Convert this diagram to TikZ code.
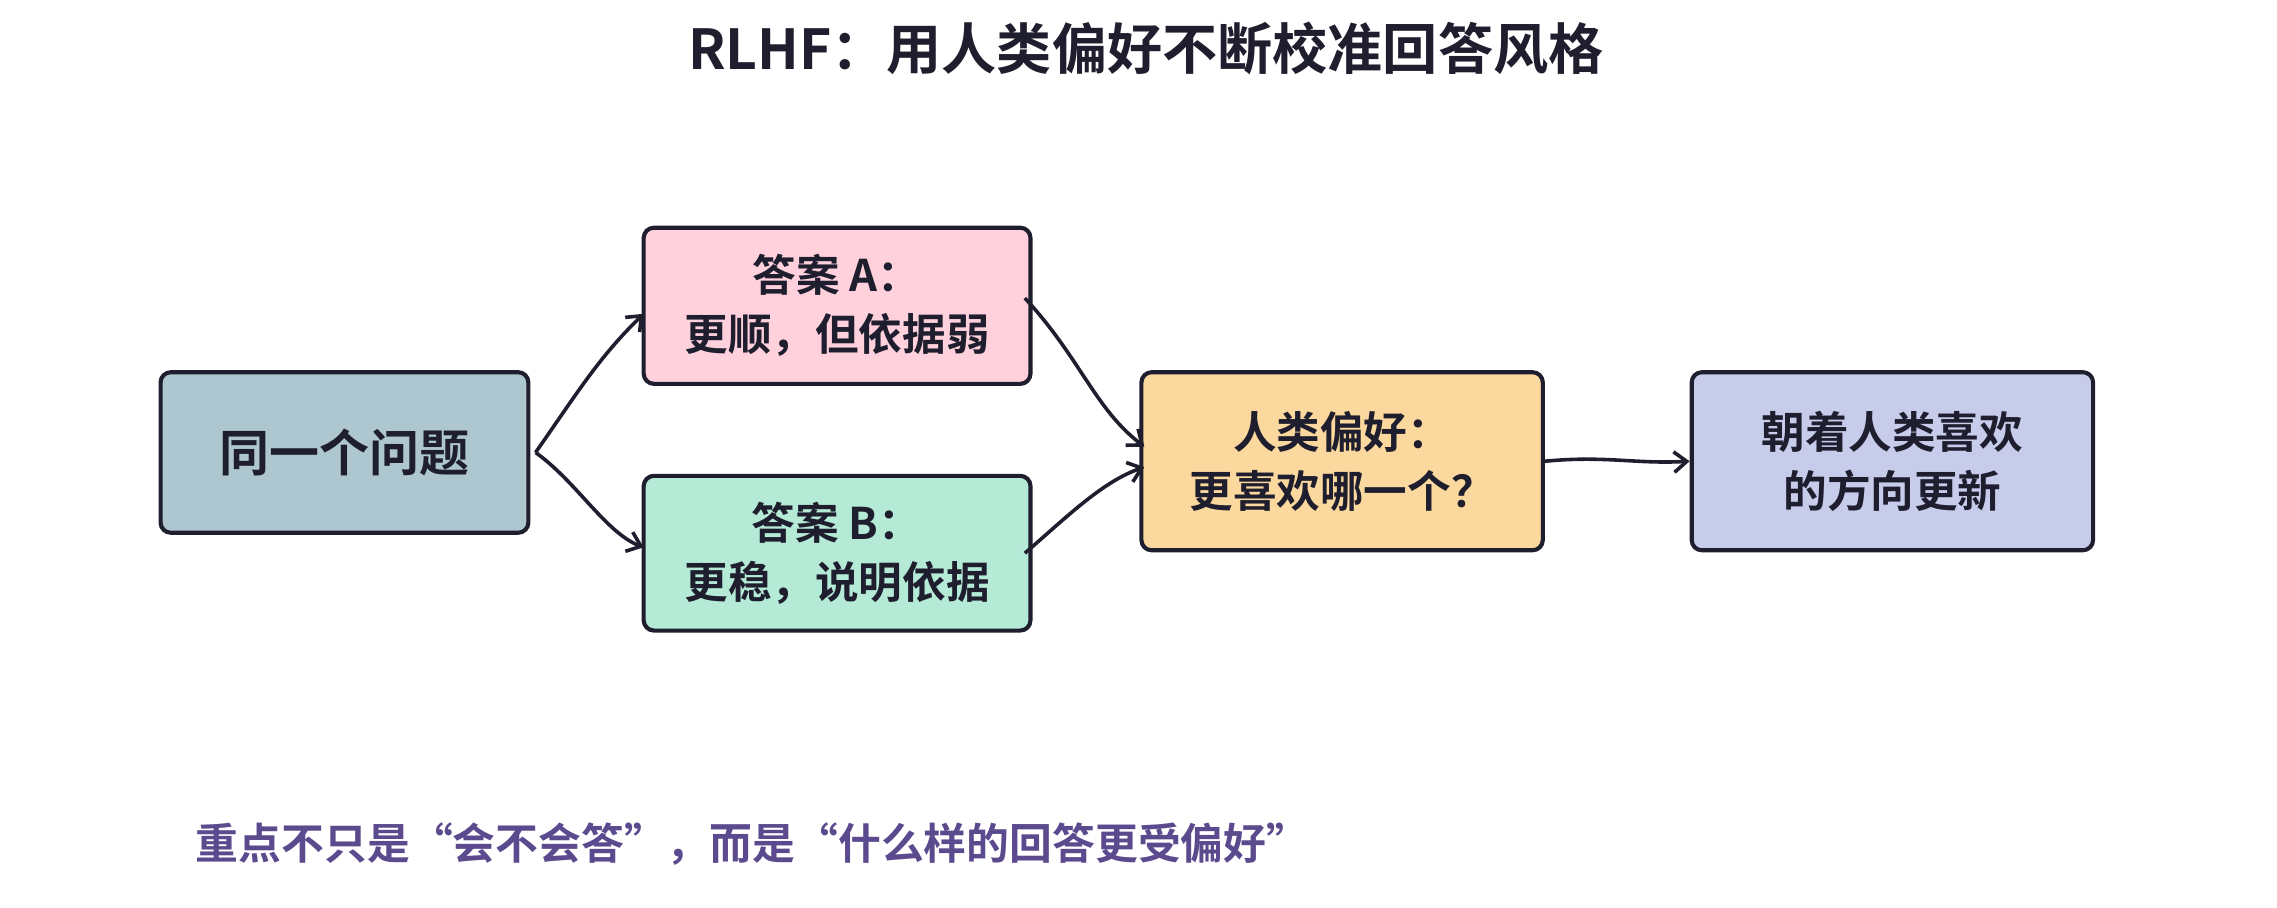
\documentclass[tikz,border=0pt]{standalone}
\usepackage{fontspec}
\setmainfont{Noto Sans CJK SC}[BoldFont={* Bold}]
\usetikzlibrary{arrows.meta}
\definecolor{ink}{HTML}{1E1E2E}
\definecolor{cq}{HTML}{AEC6CF}
\definecolor{ca}{HTML}{FFD1DC}
\definecolor{cb}{HTML}{B5EAD7}
\definecolor{ch}{HTML}{FBD89D}
\definecolor{cf}{HTML}{C7CCEB}
\definecolor{pur}{HTML}{5B4A8E}
\tikzset{
  boxs/.style={draw=ink,line width=1.6pt,rounded corners=4pt,align=center,font=\bfseries\fontsize{17}{23}\selectfont,text=ink,inner sep=0pt},
  conn/.style={draw=ink,line width=1.4pt,-{Straight Barb[length=5pt,width=8pt]}}
}
\begin{document}
\begin{tikzpicture}[x=0.02cm,y=-0.02cm]
\useasboundingbox (0,0) rectangle (1560,622);
\node[font=\bfseries\fontsize{21.5}{26}\selectfont,text=ink] (title) at (785,33) {RLHF：用人类偏好不断校准回答风格};
\node[boxs,fill=cq,minimum width=252*0.02cm,minimum height=110*0.02cm,font=\bfseries\fontsize{19.5}{24}\selectfont] (q) at (236,310) {同一个问题};
\node[boxs,fill=ca,minimum width=265*0.02cm,minimum height=107*0.02cm] (a) at (573.5,209.5) {答案 A：\\更顺，但依据弱};
\node[boxs,fill=cb,minimum width=265*0.02cm,minimum height=106*0.02cm] (b) at (573.5,379) {答案 B：\\更稳，说明依据};
\node[boxs,fill=ch,minimum width=275*0.02cm,minimum height=122*0.02cm] (h) at (919.5,316) {人类偏好：\\更喜欢哪一个？};
\node[boxs,fill=cf,minimum width=275*0.02cm,minimum height=122*0.02cm] (f) at (1296.5,316) {朝着人类喜欢\\的方向更新};
\coordinate (qa) at (441,215);
\coordinate (qb) at (441,375);
\coordinate (ah) at (784,306);
\coordinate (bh) at (784,320);
\draw[conn] ([xshift=2pt]q.east) .. controls (395,270) and (410,245) .. (qa);
\draw[conn] ([xshift=2pt]q.east) .. controls (395,330) and (415,365) .. (qb);
\draw[conn] ([xshift=-3pt,yshift=3pt]a.east) .. controls (740,245) and (750,280) .. (ah);
\draw[conn] ([xshift=-3pt]b.east) .. controls (730,355) and (755,330) .. (bh);
\draw[conn] (h.east) .. controls (1100,312) and (1120,318) .. (f.west);
\node[anchor=west,font=\bfseries\fontsize{16.7}{20}\selectfont,text=pur] (note) at (128,578) {重点不只是“会不会答”，而是“什么样的回答更受偏好”};
\end{tikzpicture}
\end{document}
